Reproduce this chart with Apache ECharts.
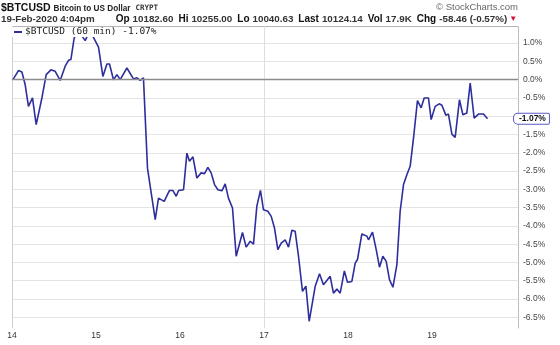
<!DOCTYPE html>
<html>
<head>
<meta charset="utf-8">
<script src="https://cdn.jsdelivr.net/npm/echarts@6/dist/echarts.min.js"></script>
<style>html,body{margin:0;padding:0;background:#fff}#c{width:560px;height:345px}</style>
</head>
<body>
<div id="c"></div>
<script>
// ---- data (x = day of Feb 2020, y = % change) ----
const ticker = '$BTCUSD';
const tickerName = 'Bitcoin to US Dollar';
const exchange = 'CRYPT';
const dateLine = '19-Feb-2020 4:04pm';
const statLabels = ['Op', 'Hi', 'Lo', 'Last', 'Vol', 'Chg'];
const statValues = ['10182.60', '10255.00', '10040.63', '10124.14', '17.9K', '-58.46 (-0.57%)'];
const xTickLabels = ['14', '15', '16', '17', '18', '19'];
const days = [14.011,14.077,14.118,14.157,14.196,14.244,14.288,14.356,14.407,14.463,14.514,14.574,14.633,14.673,14.701,14.740,14.788,14.871,14.919,14.970,15.030,15.082,15.130,15.161,15.208,15.249,15.288,15.368,15.446,15.487,15.526,15.565,15.613,15.705,15.744,15.812,15.875,15.915,15.955,15.983,16.042,16.082,16.113,16.154,16.201,16.252,16.292,16.332,16.371,16.411,16.451,16.499,16.538,16.577,16.625,16.669,16.744,16.788,16.836,16.875,16.915,16.958,16.994,17.046,17.086,17.125,17.165,17.205,17.252,17.292,17.332,17.371,17.411,17.458,17.499,17.538,17.610,17.661,17.708,17.788,17.827,17.868,17.907,17.957,17.994,18.046,18.086,18.113,18.165,18.225,18.244,18.292,18.336,18.375,18.415,18.455,18.494,18.535,18.582,18.621,18.661,18.701,18.740,18.780,18.827,18.871,18.907,18.958,18.990,19.038,19.086,19.118,19.165,19.196,19.237,19.276,19.327,19.368,19.415,19.455,19.502,19.554,19.613,19.661];
const pct = [0.00,0.25,0.21,-0.14,-0.73,-0.50,-1.23,-0.50,0.14,0.27,0.23,-0.02,0.37,0.53,0.55,1.14,1.35,1.07,1.30,1.16,0.89,0.09,0.43,0.43,0.00,0.14,0.00,0.32,0.02,0.05,-0.02,0.05,-2.42,-3.83,-3.24,-3.33,-3.03,-3.03,-3.19,-3.03,-3.01,-2.01,-2.23,-2.11,-2.69,-2.55,-2.57,-2.40,-2.55,-2.87,-3.01,-3.04,-2.85,-3.24,-3.51,-4.83,-4.18,-4.58,-4.42,-4.50,-3.46,-3.03,-3.56,-3.60,-3.74,-4.06,-4.65,-4.47,-4.38,-4.58,-4.12,-4.15,-4.83,-5.79,-5.65,-6.61,-5.65,-5.31,-5.61,-5.38,-5.84,-5.73,-5.84,-5.23,-5.54,-5.52,-5.02,-4.92,-4.22,-4.28,-4.38,-4.17,-4.65,-5.13,-4.83,-4.97,-5.47,-5.68,-5.06,-3.60,-2.87,-2.60,-2.37,-1.60,-0.57,-0.77,-0.50,-0.50,-1.09,-0.73,-0.66,-0.70,-0.97,-0.94,-1.49,-1.58,-0.55,-0.96,-0.91,-0.09,-1.05,-0.94,-0.94,-1.07];

const lastVal = pct[pct.length - 1];
const seriesName = ticker + ' (60 min) ' + lastVal.toFixed(2) + '%';
const seriesData = days.map((d, i) => [d, pct[i]]);

const F = 'Liberation Sans, Arial, sans-serif';
let line2 = '{n|' + dateLine + '}';
statLabels.forEach((l, i) => { line2 += '{' + (i === 0 ? 'k0' : 'k') + '|' + l + '}{n|' + statValues[i] + '}'; });
line2 += '{r|\u25BC}';

const yMax = 1.469, yMin = -6.794;
// split line colours: [min-extent, -6.5 .. 1.0 (16 lines), max-extent]
const yLineColors = ['rgba(0,0,0,0)'];
for (let i = 0; i < 16; i++) yLineColors.push('#e4e4e4');
yLineColors.push('#b4b4b4');
// x split lines: 14 (left border), 15,16 hidden, 17 week line, rest hidden
const xLineColors = ['#cfcfcf','rgba(0,0,0,0)','rgba(0,0,0,0)','#dedede','rgba(0,0,0,0)','rgba(0,0,0,0)','rgba(0,0,0,0)','rgba(0,0,0,0)'];

const chart = echarts.init(document.getElementById('c'), null, {renderer: 'canvas'});
chart.setOption({
  animation: false,
  backgroundColor: '#fff',
  title: [
    {
      left: 1, top: 3, padding: 0,
      text: '{a|' + ticker + '}{b|' + tickerName + '}{c|' + exchange + '}',
      textStyle: {
        rich: {
          a: {fontFamily: F, fontSize: 10.5, fontWeight: 'bold', color: '#111', padding: [0, 3, 0, 0]},
          b: {fontFamily: F, fontSize: 8.2, color: '#222', padding: [0, 5, 0, 0]},
          c: {fontFamily: 'DejaVu Sans Mono, monospace', fontSize: 7.5, color: '#333'}
        }
      }
    },
    {
      left: 1, top: 14, padding: 0,
      text: line2,
      textStyle: {
        rich: {
          n: {fontFamily: F, fontSize: 9.8, color: '#333'},
          k0: {fontFamily: F, fontSize: 10, fontWeight: 'bold', color: '#111', padding: [0, 3, 0, 21]},
          k: {fontFamily: F, fontSize: 10, fontWeight: 'bold', color: '#111', padding: [0, 3, 0, 5]},
          r: {fontFamily: F, fontSize: 8, color: '#d0103a', padding: [0, 0, 0, 2]}
        }
      }
    },
    {
      right: 42, top: 2, padding: 0,
      text: '\u00A9 StockCharts.com',
      textStyle: {fontFamily: F, fontSize: 9.5, fontWeight: 'normal', color: '#666'}
    }
  ],
  legend: {
    left: 12, top: 27, padding: [0, 3, 0, 2],
    backgroundColor: '#fff',
    itemWidth: 8, itemHeight: 2, itemGap: 4,
    icon: 'rect',
    textStyle: {fontFamily: 'DejaVu Sans Mono, monospace', fontSize: 9.5, color: '#222', padding: [0, 0, 0, -2]},
    data: [seriesName]
  },
  grid: {left: 12, right: 42, top: 26, bottom: 17, containLabel: false},
  xAxis: {
    type: 'value', min: 14, max: 20.024, interval: 1,
    axisLine: {show: true, lineStyle: {color: '#b0b0b0', type: [1, 1], width: 1}},
    axisTick: {show: false},
    splitLine: {show: true, lineStyle: {color: xLineColors, width: 1}},
    axisLabel: {
      margin: 3, fontFamily: F, fontSize: 8.5, color: '#333', showMaxLabel: false,
      formatter: v => { const s = String(Math.round(v)); return (Math.abs(v - Math.round(v)) < 1e-6 && xTickLabels.indexOf(s) >= 0) ? s : ''; }
    }
  },
  yAxis: {
    type: 'value', position: 'right', min: yMin, max: yMax,
    splitNumber: 16, minInterval: 0.5, maxInterval: 0.5,
    axisLine: {show: true, lineStyle: {color: '#b0b0b0', type: [1, 1], width: 1}},
    axisTick: {show: false},
    splitLine: {show: true, lineStyle: {color: yLineColors, width: 1}},
    axisLabel: {
      margin: 5, fontFamily: F, fontSize: 8.5, color: '#444',
      showMinLabel: false, showMaxLabel: false,
      formatter: v => v.toFixed(1) + '%'
    }
  },
  series: [{
    name: seriesName,
    type: 'line',
    data: seriesData,
    showSymbol: false,
    symbol: 'none',
    z: 3,
    lineStyle: {color: '#2e2e9c', width: 1.6},
    itemStyle: {color: '#2e2e9c'},
    markLine: {
      silent: true, symbol: 'none', animation: false,
      data: [
        {yAxis: 0, lineStyle: {color: '#8c8c8c', width: 1.4, type: 'solid'}, label: {show: false}},
        {yAxis: lastVal, lineStyle: {color: 'rgba(0,0,0,0)', width: 1},
         label: {show: true, position: 'end', distance: -4, formatter: lastVal.toFixed(2) + '%',
                 fontFamily: F, fontSize: 8.5, fontWeight: 'bold', color: '#111',
                 backgroundColor: '#fff', borderColor: '#5a5ac0', borderWidth: 1, borderRadius: [4, 1, 1, 4],
                 padding: [1, 3, 0, 5]}}
      ]
    }
  }]
});
</script>
</body>
</html>
